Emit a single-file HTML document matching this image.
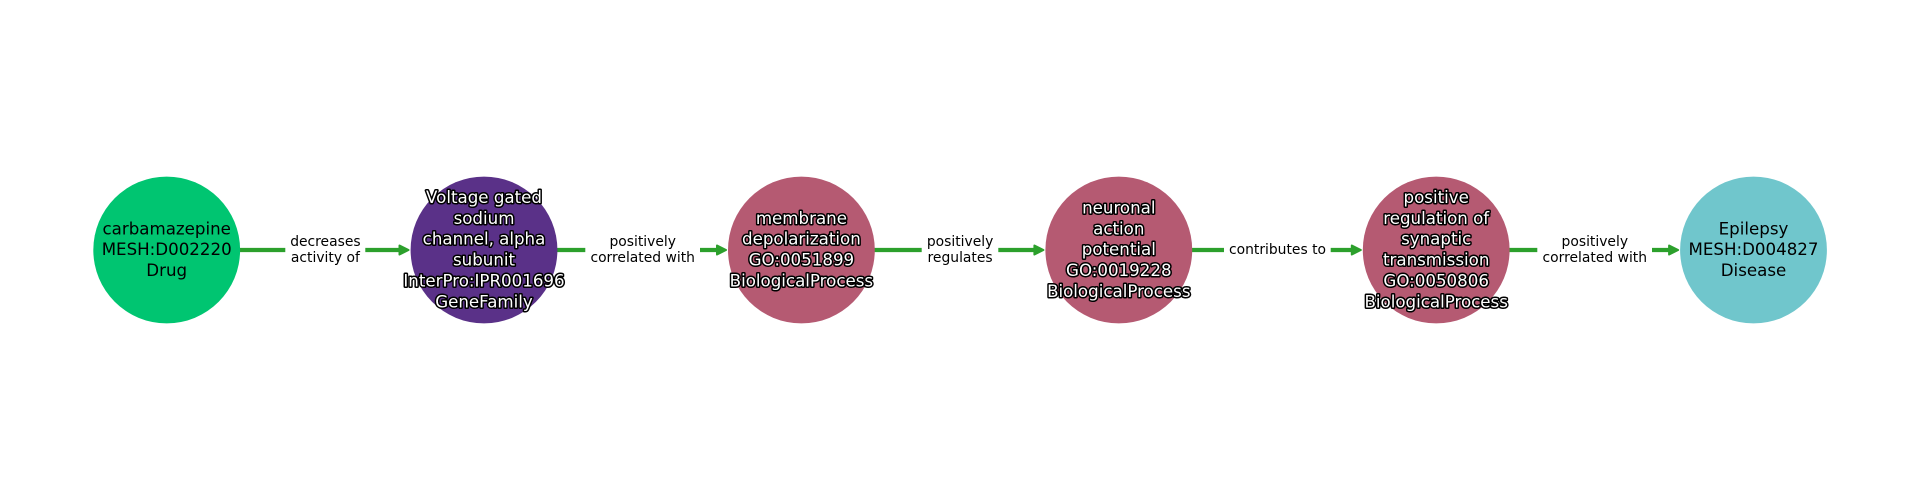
<!DOCTYPE html>
<html><head><meta charset="utf-8"><style>
html,body{margin:0;padding:0;background:#fff}
svg{display:block}
text{font-family:"DejaVu Sans",sans-serif;text-anchor:middle}
.n{font-size:16.67px;fill:#000}
.w{font-size:16.67px;fill:#fff;stroke:#000;stroke-width:3px;paint-order:stroke;stroke-linejoin:round}
.e{font-size:13.89px;fill:#000}
</style></head><body>
<svg width="1920" height="500" viewBox="0 0 1920 500" xmlns="http://www.w3.org/2000/svg">
<rect width="1920" height="500" fill="#fff"/>
<g stroke="#2ca02c" stroke-width="4.2" fill="none">
<line x1="240" y1="250" x2="285.3" y2="250"/><line x1="365.3" y1="250" x2="400" y2="250"/>
<line x1="557" y1="250" x2="585.3" y2="250"/><line x1="700" y1="250" x2="717" y2="250"/>
<line x1="874.5" y1="250" x2="921.7" y2="250"/><line x1="998.3" y1="250" x2="1034" y2="250"/>
<line x1="1192" y1="250" x2="1224" y2="250"/><line x1="1330.7" y1="250" x2="1352" y2="250"/>
<line x1="1509.5" y1="250" x2="1537.3" y2="250"/><line x1="1652" y1="250" x2="1669" y2="250"/>
</g>
<g fill="#2ca02c" stroke="#2ca02c" stroke-width="2" stroke-linejoin="round">
<path d="M399.5 245.5L408.5 250L399.5 254.5Z"/>
<path d="M717 245.5L726 250L717 254.5Z"/>
<path d="M1034.4 245.5L1043.4 250L1034.4 254.5Z"/>
<path d="M1351.8 245.5L1360.8 250L1351.8 254.5Z"/>
<path d="M1669.1 245.5L1678.1 250L1669.1 254.5Z"/>
</g>
<circle cx="166.7" cy="250" r="73.4" fill="#00c571"/>
<circle cx="484" cy="250" r="73.4" fill="#5a3188"/>
<circle cx="801.4" cy="250" r="73.4" fill="#b55a72"/>
<circle cx="1118.8" cy="250" r="73.4" fill="#b55a72"/>
<circle cx="1436.2" cy="250" r="73.4" fill="#b55a72"/>
<circle cx="1753.5" cy="250" r="73.4" fill="#70c6cc"/>

<g class="n">
<text class="n" x="166.7" y="234.3">carbamazepine</text>
<text class="n" x="166.7" y="255.2">MESH:D002220</text>
<text class="n" x="166.7" y="276">Drug</text>
<text class="n" x="1753.5" y="234.3">Epilepsy</text>
<text class="n" x="1753.5" y="255.2">MESH:D004827</text>
<text class="n" x="1753.5" y="276">Disease</text>
</g>

<text class="w" x="484" y="203">Voltage gated</text>
<text class="w" x="484" y="223.9">sodium</text>
<text class="w" x="484" y="244.7">channel, alpha</text>
<text class="w" x="484" y="265.6">subunit</text>
<text class="w" x="484" y="286.4">InterPro:IPR001696</text>
<text class="w" x="484" y="307.3">GeneFamily</text>

<text class="w" x="801.4" y="223.9">membrane</text>
<text class="w" x="801.4" y="244.7">depolarization</text>
<text class="w" x="801.4" y="265.6">GO:0051899</text>
<text class="w" x="801.4" y="286.4">BiologicalProcess</text>

<text class="w" x="1118.8" y="213.4">neuronal</text>
<text class="w" x="1118.8" y="234.3">action</text>
<text class="w" x="1118.8" y="255.2">potential</text>
<text class="w" x="1118.8" y="276">GO:0019228</text>
<text class="w" x="1118.8" y="296.9">BiologicalProcess</text>

<text class="w" x="1436.2" y="203">positive</text>
<text class="w" x="1436.2" y="223.9">regulation of</text>
<text class="w" x="1436.2" y="244.7">synaptic</text>
<text class="w" x="1436.2" y="265.6">transmission</text>
<text class="w" x="1436.2" y="286.4">GO:0050806</text>
<text class="w" x="1436.2" y="307.3">BiologicalProcess</text>

<text class="e" x="325.4" y="246">decreases</text>
<text class="e" x="325.4" y="262">activity of</text>
<text class="e" x="642.7" y="246">positively</text>
<text class="e" x="642.7" y="262">correlated with</text>
<text class="e" x="960.1" y="246">positively</text>
<text class="e" x="960.1" y="262">regulates</text>
<text class="e" x="1277.5" y="254.2">contributes to</text>
<text class="e" x="1594.8" y="246">positively</text>
<text class="e" x="1594.8" y="262">correlated with</text>
</svg>
</body></html>
